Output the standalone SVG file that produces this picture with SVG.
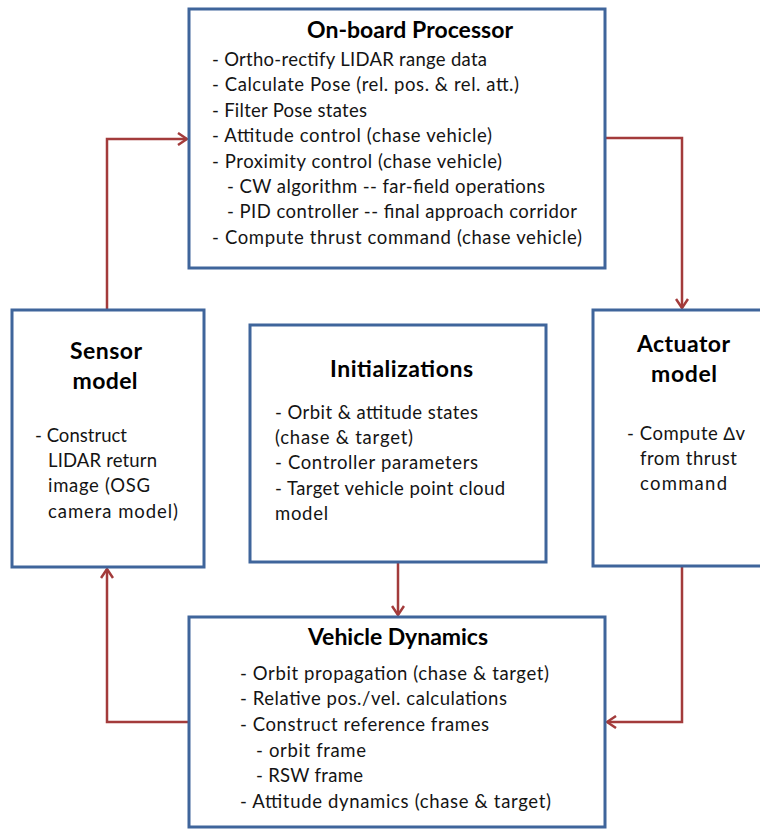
<svg xmlns="http://www.w3.org/2000/svg" width="760" height="829" viewBox="0 0 760 829">
<style>
.box{fill:#fff;stroke:#3f659b;stroke-width:3}
.t{font-family:Lato,"Liberation Sans",sans-serif;font-weight:bold;font-size:23px;fill:#000;text-anchor:middle}
.b{font-family:Lato,"Liberation Sans",sans-serif;font-size:18.5px;fill:#141414}
.c{fill:none;stroke:#a33b3b;stroke-width:2.5}
</style>
<defs>
<marker id="ah" markerUnits="userSpaceOnUse" viewBox="0 0 11 14" refX="10" refY="7" markerWidth="11" markerHeight="14" orient="auto">
<path d="M1,1 L10,7 L1,13" fill="none" stroke="#a33b3b" stroke-width="2.5"/>
</marker>
</defs>
<rect width="760" height="829" fill="#fff"/>
<g id="connectors">
<path class="c" d="M107,310 V139 H187" marker-end="url(#ah)"/>
<path class="c" d="M605,138 H682 V308" marker-end="url(#ah)"/>
<path class="c" d="M398,562 V615" marker-end="url(#ah)"/>
<path class="c" d="M682,566 V722 H607" marker-end="url(#ah)"/>
<path class="c" d="M189,722 H107 V569" marker-end="url(#ah)"/>
</g>
<g id="processor">
<rect class="box" x="189" y="9" width="416" height="259"/>
<text class="t" x="410" y="38" textLength="206">On-board Processor</text>
<text class="b" x="212" y="66" textLength="275">- Ortho-rectify LIDAR range data</text>
<text class="b" x="212" y="91" textLength="307">- Calculate Pose (rel. pos. &amp; rel. att.)</text>
<text class="b" x="212" y="117" textLength="155">- Filter Pose states</text>
<text class="b" x="212" y="142" textLength="280">- Attitude control (chase vehicle)</text>
<text class="b" x="212" y="168" textLength="290">- Proximity control (chase vehicle)</text>
<text class="b" x="227" y="193" textLength="318">- CW algorithm -- far-field operations</text>
<text class="b" x="227" y="218" textLength="350">- PID controller -- final approach corridor</text>
<text class="b" x="212" y="244" textLength="370">- Compute thrust command (chase vehicle)</text>
</g>
<g id="sensor">
<rect class="box" x="12" y="310" width="192" height="257"/>
<text class="t" x="106" y="359" textLength="72">Sensor</text>
<text class="t" x="105" y="389" textLength="65">model</text>
<text class="b" x="35" y="442" textLength="92">- Construct</text>
<text class="b" x="48" y="467" textLength="109">LIDAR return</text>
<text class="b" x="48" y="492" textLength="102">image (OSG</text>
<text class="b" x="48" y="518" textLength="130">camera model)</text>
</g>
<g id="init">
<rect class="box" x="250" y="325" width="296" height="237"/>
<text class="t" x="401.5" y="377" textLength="143">Initializations</text>
<text class="b" x="275" y="419" textLength="203">- Orbit &amp; attitude states</text>
<text class="b" x="275" y="444" textLength="138">(chase &amp; target)</text>
<text class="b" x="275" y="469" textLength="203">- Controller parameters</text>
<text class="b" x="275" y="495" textLength="230">- Target vehicle point cloud</text>
<text class="b" x="275" y="520" textLength="53">model</text>
</g>
<g id="actuator">
<rect class="box" x="593" y="310" width="200" height="256"/>
<text class="t" x="683.5" y="352" textLength="93">Actuator</text>
<text class="t" x="684" y="382" textLength="66">model</text>
<text class="b" x="627" y="440" textLength="118">- Compute ∆v</text>
<text class="b" x="640" y="465" textLength="97">from thrust</text>
<text class="b" x="640" y="490" textLength="87">command</text>
</g>
<g id="dynamics">
<rect class="box" x="189" y="617" width="416" height="210"/>
<text class="t" x="398" y="645" textLength="180">Vehicle Dynamics</text>
<text class="b" x="240" y="680" textLength="309">- Orbit propagation (chase &amp; target)</text>
<text class="b" x="240" y="705" textLength="267">- Relative pos./vel. calculations</text>
<text class="b" x="240" y="731" textLength="249">- Construct reference frames</text>
<text class="b" x="256" y="757" textLength="110">- orbit frame</text>
<text class="b" x="256" y="782" textLength="107">- RSW frame</text>
<text class="b" x="240" y="808" textLength="311">- Attitude dynamics (chase &amp; target)</text>
</g>
</svg>
